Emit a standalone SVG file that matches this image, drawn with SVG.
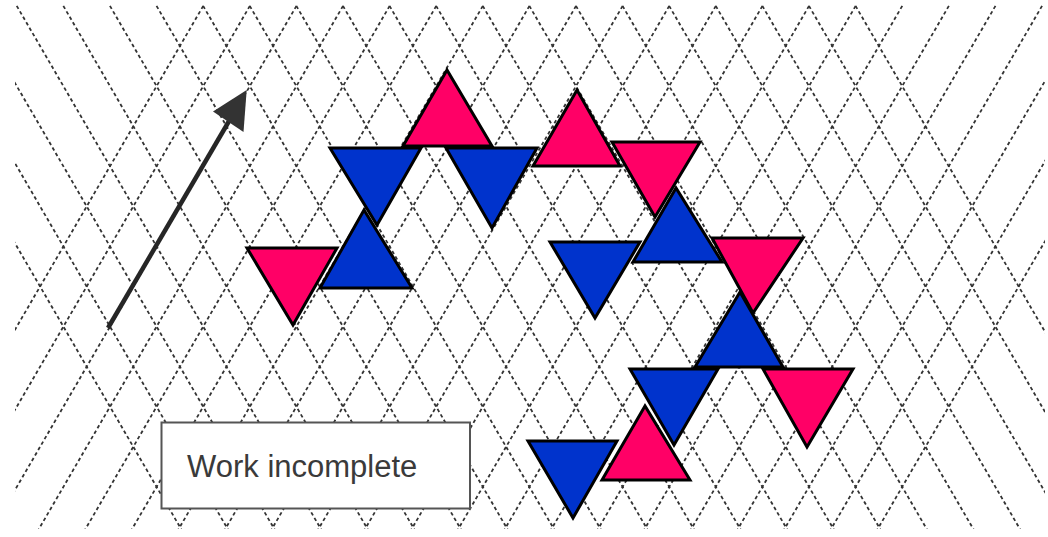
<svg xmlns="http://www.w3.org/2000/svg" width="1048" height="537" viewBox="0 0 1048 537">
<style>
.hatch{fill:none;stroke:#333;stroke-width:1.8;stroke-dasharray:3.5 2.8}
.tri{stroke:#000;stroke-width:3;stroke-linejoin:miter}
.pk{fill:#FF0066}
.bl{fill:#0033CC}
.box{fill:#fff;stroke:#555;stroke-width:2}
.lbl{font-family:"Liberation Sans",Arial,sans-serif;font-size:31px;fill:#3a3a3a}
</style>
<defs>
<clipPath id="area"><rect x="15" y="4" width="1030" height="525"/></clipPath>
</defs>
<rect width="1048" height="537" fill="#fff"/>
<g id="background" clip-path="url(#area)">
<path class="hatch" d="M-129.4,-5l316.9,545M-82.8,-5l316.9,545M-36.2,-5l316.9,545M10.4,-5l316.9,545M57,-5l316.9,545M103.6,-5l316.9,545M150.2,-5l316.9,545M196.8,-5l316.9,545M243.4,-5l316.9,545M290,-5l316.9,545M336.6,-5l316.9,545M383.2,-5l316.9,545M429.8,-5l316.9,545M476.4,-5l316.9,545M523,-5l316.9,545M569.6,-5l316.9,545M616.2,-5l316.9,545M662.8,-5l316.9,545M709.4,-5l316.9,545M756,-5l316.9,545M802.6,-5l316.9,545M849.2,-5l316.9,545"/>
<path class="hatch" d="M209.6,-5l-316.9,545M256.2,-5l-316.9,545M302.8,-5l-316.9,545M349.4,-5l-316.9,545M396,-5l-316.9,545M442.6,-5l-316.9,545M489.2,-5l-316.9,545M535.8,-5l-316.9,545M582.4,-5l-316.9,545M629,-5l-316.9,545M675.6,-5l-316.9,545M722.2,-5l-316.9,545M768.8,-5l-316.9,545M815.4,-5l-316.9,545M862,-5l-316.9,545M908.6,-5l-316.9,545M955.2,-5l-316.9,545M1001.8,-5l-316.9,545M1048.4,-5l-316.9,545M1095,-5l-316.9,545M1141.6,-5l-316.9,545M1188.2,-5l-316.9,545"/>
</g>
<g id="connectors">
<line x1="108" y1="328" x2="232" y2="116" stroke="#262626" stroke-width="4.5"/>
<polygon points="246.7,90 243.5,132 213,111.5" fill="#333"/>
</g>
<g id="tri-p1"><polygon class="tri pk" points="447,70 403,146 492,146"/></g>
<g id="tri-ba"><polygon class="tri bl" points="330,148 421,148 377,225"/></g>
<g id="tri-bb"><polygon class="tri bl" points="446,148 537,148 492,228"/></g>
<g id="tri-pd"><polygon class="tri pk" points="247,248 337,248 293,325"/></g>
<g id="tri-bc"><polygon class="tri bl" points="364,210 320,288 412,288"/></g>
<g id="tri-pe"><polygon class="tri pk" points="577,90 533,166 620,166"/></g>
<g id="tri-pf"><polygon class="tri pk" points="612,142 700,142 655,217"/></g>
<g id="tri-bh"><polygon class="tri bl" points="550,242 640,242 595,318"/></g>
<g id="tri-bg"><polygon class="tri bl" points="676,188 633,262 722,262"/></g>
<g id="tri-pi"><polygon class="tri pk" points="712,238 803,238 753,313"/></g>
<g id="tri-bj"><polygon class="tri bl" points="740,292 695,367 783,367"/></g>
<g id="tri-bk"><polygon class="tri bl" points="630,369 718,369 674,445"/></g>
<g id="tri-pl"><polygon class="tri pk" points="763,369 853,369 807,447"/></g>
<g id="tri-bn"><polygon class="tri bl" points="528,441 617,441 573,518"/></g>
<g id="tri-pm"><polygon class="tri pk" points="645,406 602,480 690,480"/></g>
<g id="label-box">
<rect class="box" x="161.5" y="422.5" width="308.5" height="86"/>
<text class="lbl" x="187" y="477">Work incomplete</text>
</g>
</svg>
